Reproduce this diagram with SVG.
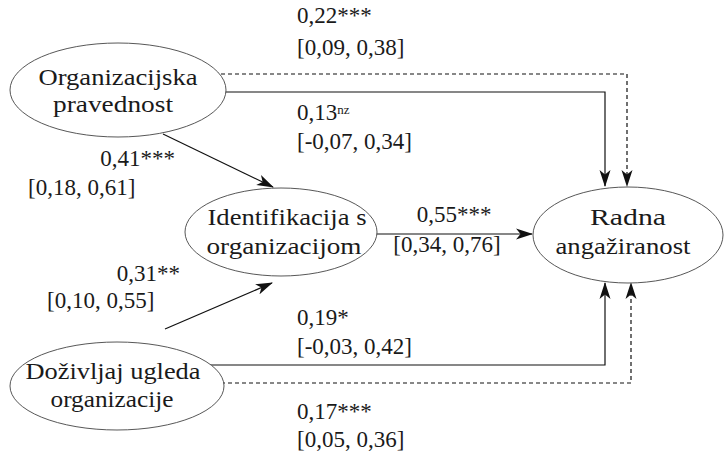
<svg xmlns="http://www.w3.org/2000/svg" width="724" height="452" viewBox="0 0 724 452">
<style>
text{font-family:"Liberation Serif","Times New Roman",serif;font-size:23px;fill:#1a1a1a}
.node ellipse{fill:#fff;stroke:#444;stroke-width:0.9}
.node text{text-anchor:middle}
.c{fill:none;stroke:#111;stroke-width:1.2}
.d{stroke-dasharray:4 3}
.sup{font-size:13px}
</style>
<defs>
<marker id="ah" viewBox="0 0 17 12" refX="16" refY="6" markerWidth="17" markerHeight="12" markerUnits="userSpaceOnUse" orient="auto">
<path d="M0,0.5 L17,6 L0,11.5 L4.5,6 Z" fill="#111"/>
</marker>
</defs>
<rect width="724" height="452" fill="#fff"/>
<g id="connectors">
<polyline class="c d" points="200,74 627,74 627,186" marker-end="url(#ah)"/>
<polyline class="c" points="200,92 605,92 605,186" marker-end="url(#ah)"/>
<line class="c" x1="163" y1="134" x2="273" y2="187" marker-end="url(#ah)"/>
<line class="c" x1="376" y1="234" x2="532" y2="234" marker-end="url(#ah)"/>
<line class="c" x1="165" y1="329" x2="272" y2="283" marker-end="url(#ah)"/>
<polyline class="c" points="200,365 605,365 605,283" marker-end="url(#ah)"/>
<polyline class="c d" points="200,383 631,383 631,283" marker-end="url(#ah)"/>
</g>
<g id="n1" class="node">
<ellipse cx="118" cy="90" rx="108" ry="47"/>
<text x="118" y="85" textLength="159" lengthAdjust="spacingAndGlyphs">Organizacijska</text>
<text x="113" y="112" textLength="120" lengthAdjust="spacingAndGlyphs">pravednost</text>
</g>
<g id="n2" class="node">
<ellipse cx="281" cy="232" rx="96" ry="44"/>
<text x="287" y="225" textLength="159" lengthAdjust="spacingAndGlyphs">Identifikacija s</text>
<text x="284" y="254" textLength="155" lengthAdjust="spacingAndGlyphs">organizacijom</text>
</g>
<g id="n3" class="node">
<ellipse cx="628" cy="235" rx="95" ry="48"/>
<text x="628" y="225" textLength="76" lengthAdjust="spacingAndGlyphs">Radna</text>
<text x="623" y="254" textLength="135" lengthAdjust="spacingAndGlyphs">angažiranost</text>
</g>
<g id="n4" class="node">
<ellipse cx="117" cy="386" rx="107" ry="44"/>
<text x="113" y="379" textLength="175" lengthAdjust="spacingAndGlyphs">Doživljaj ugleda</text>
<text x="112" y="407" textLength="123" lengthAdjust="spacingAndGlyphs">organizacije</text>
</g>
<g id="labels">
<text x="297" y="23">0,22***</text>
<text x="297" y="55">[0,09, 0,38]</text>
<text x="297" y="120">0,13<tspan class="sup" dy="-6">nz</tspan></text>
<text x="297" y="149">[-0,07, 0,34]</text>
<text x="175" y="166" text-anchor="end">0,41***</text>
<text x="28" y="195">[0,18, 0,61]</text>
<text x="454" y="222" text-anchor="middle">0,55***</text>
<text x="447" y="252" text-anchor="middle">[0,34, 0,76]</text>
<text x="180" y="281" text-anchor="end">0,31**</text>
<text x="47" y="308">[0,10, 0,55]</text>
<text x="297" y="325">0,19*</text>
<text x="297" y="354">[-0,03, 0,42]</text>
<text x="297" y="419">0,17***</text>
<text x="297" y="447">[0,05, 0,36]</text>
</g>
</svg>
